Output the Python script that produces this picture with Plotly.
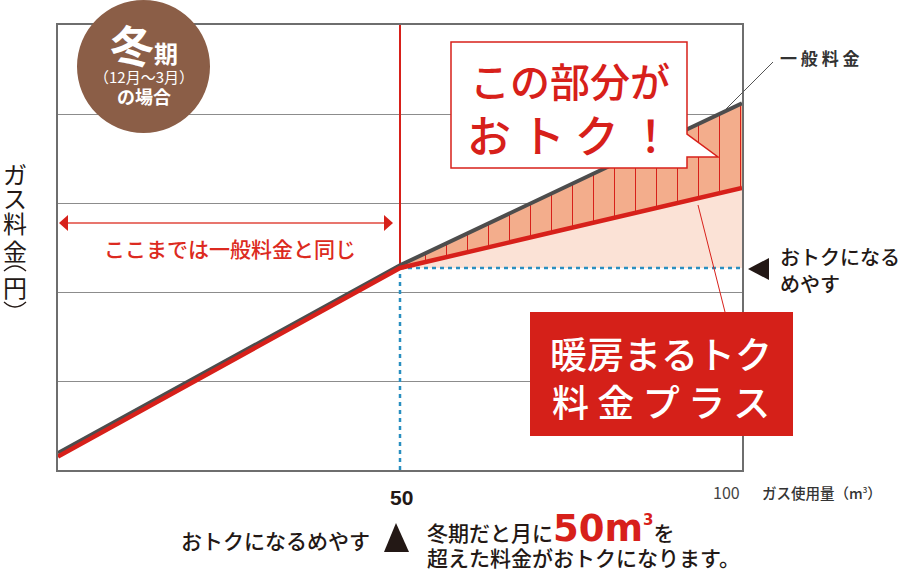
import plotly.graph_objects as go

# ---------------- data ----------------
usage_points = [0, 50, 100]              # ガス使用量 (m3)
general_fee = [0.19, 2.30, 4.12]         # 一般料金 (relative)
plus_fee = [0.15, 2.27, 3.17]            # 暖房まるトク料金プラス (relative)
threshold_usage = 50
threshold_fee = plus_fee[1]
x_tick_labels = ["50", "100"]
y_max = 5

# ---------------- styles ----------------
FONT = "Noto Sans CJK JP"
RED = "#d7201a"
GRAY_LINE = "#4d4d4d"
BLUE = "#2a8fc0"
SALMON = "#f3ad8c"
PINK = "#fbe2d6"
BROWN = "#8b5e47"
DARK = "#231815"

L, R, T, B = 58, 742, 25, 470
W, H = R - L, B - T


def px(x):
    return (x - L) / W


def py(y):
    return (B - y) / H


fig = go.Figure()

# light pink area between threshold and plus fee
fig.add_trace(go.Scatter(x=usage_points[1:], y=[threshold_fee, threshold_fee],
                         mode="lines", line=dict(width=0), hoverinfo="skip", showlegend=False))
fig.add_trace(go.Scatter(x=usage_points[1:], y=plus_fee[1:], mode="lines", line=dict(width=0),
                         fill="tonexty", fillcolor=PINK, hoverinfo="skip", showlegend=False))
# salmon hatched area between plus fee and general fee
fig.add_trace(go.Scatter(x=usage_points[1:], y=general_fee[1:], mode="lines", line=dict(width=0),
                         fill="tonexty", fillcolor=SALMON,
                         fillpattern=dict(shape="|", fgcolor=RED, bgcolor=SALMON, size=21,
                                          solidity=0.05, fillmode="replace"),
                         hoverinfo="skip", showlegend=False))
# blue dotted guides
fig.add_trace(go.Scatter(x=[threshold_usage, usage_points[-1]], y=[threshold_fee, threshold_fee],
                         mode="lines", line=dict(color=BLUE, width=2.5, dash="4px,4px"),
                         hoverinfo="skip", showlegend=False))
fig.add_trace(go.Scatter(x=[threshold_usage, threshold_usage], y=[0, threshold_fee],
                         mode="lines", line=dict(color=BLUE, width=2.5, dash="4px,4px"),
                         hoverinfo="skip", showlegend=False))
# red vertical line
fig.add_trace(go.Scatter(x=[threshold_usage, threshold_usage], y=[threshold_fee, y_max],
                         mode="lines", line=dict(color=RED, width=2),
                         hoverinfo="skip", showlegend=False))
# fee lines
fig.add_trace(go.Scatter(x=usage_points, y=general_fee, mode="lines",
                         line=dict(color=GRAY_LINE, width=4), hoverinfo="skip", showlegend=False))
fig.add_trace(go.Scatter(x=usage_points, y=plus_fee, mode="lines",
                         line=dict(color=RED, width=4.5), hoverinfo="skip", showlegend=False))

shapes = []


def path(points):
    s = "M " + " L ".join(f"{px(a):.5f},{py(b):.5f}" for a, b in points) + " Z"
    return s


def arc(x0, x1, y_end, y_ctrl):
    xc = (x0 + x1) / 2
    return (f"M {px(x0):.5f},{py(y_end):.5f} Q {px(xc):.5f},{py(y_ctrl):.5f} "
            f"{px(x1):.5f},{py(y_end):.5f}")


# brown circle
shapes.append(dict(type="circle", xref="paper", yref="paper", x0=px(77), x1=px(210),
                   y0=py(0), y1=py(133), fillcolor=BROWN, line=dict(width=0), layer="above"))
# callout box
shapes.append(dict(type="path", xref="paper", yref="paper", layer="above",
                   path=path([(451, 42), (687, 42), (687, 134), (718, 157), (687, 157),
                              (687, 168), (451, 168)]),
                   fillcolor="white", line=dict(color=RED, width=1.5)))
# leader lines
shapes.append(dict(type="line", xref="paper", yref="paper", layer="above",
                   x0=px(773), y0=py(62), x1=px(725), y1=py(110),
                   line=dict(color="#555555", width=1)))
shapes.append(dict(type="line", xref="paper", yref="paper", layer="above",
                   x0=px(698), y0=py(205), x1=px(725), y1=py(312),
                   line=dict(color=RED, width=1)))
# red plan box
shapes.append(dict(type="rect", xref="paper", yref="paper", layer="above",
                   x0=px(530), x1=px(793), y0=py(312), y1=py(436),
                   fillcolor="#d52019", line=dict(width=0)))
# double arrow
shapes.append(dict(type="line", xref="paper", yref="paper", layer="above",
                   x0=px(64), x1=px(388), y0=py(223), y1=py(223),
                   line=dict(color="#e0473c", width=1.5)))
shapes.append(dict(type="path", xref="paper", yref="paper", layer="above",
                   path=path([(59, 223), (68, 215), (68, 231)]), fillcolor=RED, line=dict(width=0)))
shapes.append(dict(type="path", xref="paper", yref="paper", layer="above",
                   path=path([(393, 223), (384, 215), (384, 231)]), fillcolor=RED, line=dict(width=0)))
# triangles
shapes.append(dict(type="path", xref="paper", yref="paper", layer="above",
                   path=path([(748, 269), (769, 258), (769, 280)]), fillcolor=DARK, line=dict(width=0)))
shapes.append(dict(type="path", xref="paper", yref="paper", layer="above",
                   path=path([(396, 523), (384, 552), (409, 552)]), fillcolor=DARK, line=dict(width=0)))
# vertical parentheses of the y title
shapes.append(dict(type="path", xref="paper", yref="paper", layer="above",
                   path=arc(4, 26, 271, 261), line=dict(color=DARK, width=1.3)))
shapes.append(dict(type="path", xref="paper", yref="paper", layer="above",
                   path=arc(4, 26, 302, 312), line=dict(color=DARK, width=1.3)))

ann = []


def text(x, y, t, size, color=DARK, xanchor="center", yanchor="middle", family=FONT, weight=None):
    f = dict(family=family, size=size, color=color)
    if weight:
        f["weight"] = weight
    ann.append(dict(xref="paper", yref="paper", x=px(x), y=py(y), text=t, showarrow=False,
                    xanchor=xanchor, yanchor=yanchor, font=f))


# circle texts
text(144, 44, "<b><span style='font-size:44px'>冬</span>期</b>", 24, "white")
text(144, 76, "（12月〜3月）", 15, "white")
text(144, 96, "<b>の場合</b>", 18, "white")
# callout
text(570, 80, "この部分が", 40, RED, weight=500)
text(570, 134, "お ト ク ！", 44, RED, weight=500)
# labels
text(778, 57, "<b>一 般 料 金</b>", 17, "#333333", xanchor="left")
text(230, 248, "ここまでは一般料金と同じ", 21, "#dc2a20", weight=500)
text(778, 256, "おトクになる", 20, DARK, xanchor="left", weight=500)
text(778, 283, "めやす", 20, DARK, xanchor="left", weight=500)
text(661, 353, "暖房まるトク", 37, "white", weight=500)
text(661, 401, "料 金 プ ラ ス", 37, "white", weight=500)
# axis labels
text(401, 497, "<b>" + x_tick_labels[0] + "</b>", 21, DARK, family="Liberation Sans")
text(742, 492, x_tick_labels[1], 16, "#444444", xanchor="right")
text(760, 492, "ガス使用量（m<sup><span style='font-size:8px'>3</span></sup>）", 14.5, "#333333",
     xanchor="left", weight=500)
# bottom notes
text(372, 540, "おトクになるめやす", 21, DARK, xanchor="right", weight=500)
text(425, 528, "冬期だと月に<span style='color:#d7201a;font-size:37px;font-family:DejaVu Sans'>"
     "<b>50m<sup><span style='font-size:15px'>3</span></sup></b></span>を", 21, DARK,
     xanchor="left", weight=500)
text(425, 557, "超えた料金がおトクになります。", 21, DARK, xanchor="left", weight=500)

# vertical y-axis title
for ch, yy in [("ガ", 173), ("ス", 197), ("料", 222), ("金", 250), ("円", 286)]:
    text(15, yy, ch, 24, DARK)

fig.update_layout(
    width=900, height=570,
    margin=dict(l=L, r=900 - R, t=T, b=570 - B),
    paper_bgcolor="white", plot_bgcolor="white",
    showlegend=False,
    xaxis=dict(range=[0, 100], showgrid=False, zeroline=False, showticklabels=False, ticks="",
               showline=True, mirror=True, linecolor="#6e6e6e", linewidth=2, fixedrange=True),
    yaxis=dict(range=[0, y_max], dtick=1, showgrid=True, gridcolor="#8c8c8c", gridwidth=1,
               zeroline=False, showticklabels=False, ticks="",
               showline=True, mirror=True, linecolor="#6e6e6e", linewidth=2, fixedrange=True),
    shapes=shapes, annotations=ann,
    font=dict(family=FONT),
)

fig.write_html("out.html", config={"displayModeBar": False},
               post_script="document.body.style.margin='0';")
